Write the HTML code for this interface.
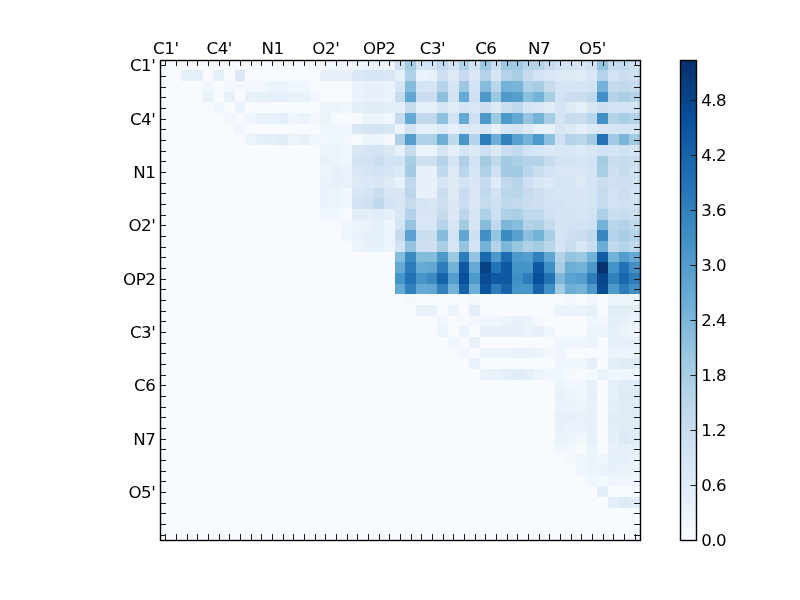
<!DOCTYPE html>
<html><head><meta charset="utf-8"><title>heatmap</title>
<style>html,body{margin:0;padding:0;background:#fff}svg{display:block}text{font-family:"DejaVu Sans","Liberation Sans",sans-serif;font-size:16.67px;fill:#000}</style></head>
<body>
<svg width="800" height="600" viewBox="0 0 800 600">
<rect width="800" height="600" fill="#fff"/>
<defs><linearGradient id="cb" x1="0" y1="1" x2="0" y2="0"><stop offset="0.0000" stop-color="#f7fbff"/><stop offset="0.1250" stop-color="#deebf7"/><stop offset="0.2500" stop-color="#c6dbef"/><stop offset="0.3750" stop-color="#9ecae1"/><stop offset="0.5000" stop-color="#6baed6"/><stop offset="0.6250" stop-color="#4292c6"/><stop offset="0.7500" stop-color="#2171b5"/><stop offset="0.8750" stop-color="#08519c"/><stop offset="1.0000" stop-color="#08306b"/></linearGradient></defs>
<g shape-rendering="crispEdges">
<rect x="160" y="60" width="480" height="480" fill="#f7fbff"/>
<rect x="320" y="60" width="11" height="10" fill="#f4f9fe"/><rect x="331" y="60" width="21" height="10" fill="#f2f7fd"/><rect x="352" y="60" width="11" height="10" fill="#eef5fc"/><rect x="363" y="60" width="21" height="10" fill="#ecf4fb"/><rect x="384" y="60" width="11" height="10" fill="#eef5fc"/><rect x="395" y="60" width="10" height="10" fill="#cee0f2"/><rect x="405" y="60" width="11" height="10" fill="#a3cce3"/><rect x="416" y="60" width="21" height="10" fill="#d2e3f3"/><rect x="437" y="60" width="11" height="10" fill="#c1d9ed"/><rect x="448" y="60" width="11" height="10" fill="#d2e3f3"/><rect x="459" y="60" width="10" height="10" fill="#aed1e7"/><rect x="469" y="60" width="11" height="10" fill="#d2e3f3"/><rect x="480" y="60" width="11" height="10" fill="#9cc9e1"/><rect x="491" y="60" width="10" height="10" fill="#cadef0"/><rect x="501" y="60" width="11" height="10" fill="#9cc9e1"/><rect x="512" y="60" width="11" height="10" fill="#9fcae1"/><rect x="523" y="60" width="21" height="10" fill="#b4d3e9"/><rect x="544" y="60" width="11" height="10" fill="#c7dbef"/><rect x="555" y="60" width="21" height="10" fill="#d2e3f3"/><rect x="576" y="60" width="11" height="10" fill="#d5e5f4"/><rect x="587" y="60" width="10" height="10" fill="#cee0f2"/><rect x="597" y="60" width="11" height="10" fill="#94c4df"/><rect x="608" y="60" width="11" height="10" fill="#c7dbef"/><rect x="619" y="60" width="10" height="10" fill="#c1d9ed"/><rect x="629" y="60" width="11" height="10" fill="#cee0f2"/>
<rect x="181" y="70" width="11" height="11" fill="#e6f0f9"/><rect x="192" y="70" width="11" height="11" fill="#e4eff9"/><rect x="213" y="70" width="11" height="11" fill="#e6f0f9"/><rect x="235" y="70" width="10" height="11" fill="#dbe9f6"/><rect x="320" y="70" width="11" height="11" fill="#e8f1fa"/><rect x="331" y="70" width="10" height="11" fill="#e6f0f9"/><rect x="341" y="70" width="11" height="11" fill="#e8f1fa"/><rect x="352" y="70" width="11" height="11" fill="#dbe9f6"/><rect x="363" y="70" width="10" height="11" fill="#d7e6f5"/><rect x="373" y="70" width="11" height="11" fill="#d5e5f4"/><rect x="384" y="70" width="11" height="11" fill="#d9e7f5"/><rect x="395" y="70" width="10" height="11" fill="#e4eff9"/><rect x="405" y="70" width="11" height="11" fill="#aed1e7"/><rect x="416" y="70" width="11" height="11" fill="#eaf2fb"/><rect x="427" y="70" width="10" height="11" fill="#e8f1fa"/><rect x="437" y="70" width="11" height="11" fill="#cee0f2"/><rect x="448" y="70" width="11" height="11" fill="#dceaf6"/><rect x="459" y="70" width="10" height="11" fill="#c7dbef"/><rect x="469" y="70" width="11" height="11" fill="#d9e7f5"/><rect x="480" y="70" width="11" height="11" fill="#b4d3e9"/><rect x="491" y="70" width="10" height="11" fill="#d5e5f4"/><rect x="501" y="70" width="11" height="11" fill="#b4d3e9"/><rect x="512" y="70" width="11" height="11" fill="#a8cee4"/><rect x="523" y="70" width="10" height="11" fill="#c7dbef"/><rect x="533" y="70" width="11" height="11" fill="#d2e3f3"/><rect x="544" y="70" width="11" height="11" fill="#d9e7f5"/><rect x="555" y="70" width="21" height="11" fill="#dceaf6"/><rect x="576" y="70" width="11" height="11" fill="#dfebf7"/><rect x="587" y="70" width="10" height="11" fill="#d9e7f5"/><rect x="597" y="70" width="11" height="11" fill="#b4d3e9"/><rect x="608" y="70" width="11" height="11" fill="#d2e3f3"/><rect x="619" y="70" width="10" height="11" fill="#cadef0"/><rect x="629" y="70" width="11" height="11" fill="#cee0f2"/>
<rect x="203" y="81" width="10" height="11" fill="#f0f6fd"/><rect x="224" y="81" width="43" height="11" fill="#f2f7fd"/><rect x="267" y="81" width="21" height="11" fill="#ecf4fb"/><rect x="288" y="81" width="21" height="11" fill="#f0f6fd"/><rect x="309" y="81" width="11" height="11" fill="#f4f9fe"/><rect x="320" y="81" width="32" height="11" fill="#f5fafe"/><rect x="352" y="81" width="11" height="11" fill="#eaf2fb"/><rect x="363" y="81" width="21" height="11" fill="#e8f1fa"/><rect x="384" y="81" width="11" height="11" fill="#eaf2fb"/><rect x="395" y="81" width="10" height="11" fill="#d5e5f4"/><rect x="405" y="81" width="11" height="11" fill="#84bcdb"/><rect x="416" y="81" width="21" height="11" fill="#d5e5f4"/><rect x="437" y="81" width="11" height="11" fill="#b4d3e9"/><rect x="448" y="81" width="11" height="11" fill="#d5e5f4"/><rect x="459" y="81" width="10" height="11" fill="#9cc9e1"/><rect x="469" y="81" width="11" height="11" fill="#d2e3f3"/><rect x="480" y="81" width="11" height="11" fill="#84bcdb"/><rect x="491" y="81" width="10" height="11" fill="#bad6eb"/><rect x="501" y="81" width="11" height="11" fill="#74b3d8"/><rect x="512" y="81" width="11" height="11" fill="#79b5d9"/><rect x="523" y="81" width="10" height="11" fill="#aed1e7"/><rect x="533" y="81" width="11" height="11" fill="#a8cee4"/><rect x="544" y="81" width="11" height="11" fill="#c7dbef"/><rect x="555" y="81" width="32" height="11" fill="#d5e5f4"/><rect x="587" y="81" width="10" height="11" fill="#d2e3f3"/><rect x="597" y="81" width="11" height="11" fill="#74b3d8"/><rect x="608" y="81" width="11" height="11" fill="#c7dbef"/><rect x="619" y="81" width="10" height="11" fill="#c1d9ed"/><rect x="629" y="81" width="11" height="11" fill="#c7dbef"/>
<rect x="203" y="92" width="10" height="10" fill="#e8f1fa"/><rect x="224" y="92" width="11" height="10" fill="#e8f1fa"/><rect x="245" y="92" width="11" height="10" fill="#e8f1fa"/><rect x="256" y="92" width="11" height="10" fill="#e6f0f9"/><rect x="267" y="92" width="21" height="10" fill="#e4eff9"/><rect x="288" y="92" width="21" height="10" fill="#e8f1fa"/><rect x="309" y="92" width="11" height="10" fill="#f0f6fd"/><rect x="320" y="92" width="32" height="10" fill="#f5fafe"/><rect x="352" y="92" width="11" height="10" fill="#eaf2fb"/><rect x="363" y="92" width="21" height="10" fill="#e8f1fa"/><rect x="384" y="92" width="11" height="10" fill="#eaf2fb"/><rect x="395" y="92" width="10" height="10" fill="#c7dbef"/><rect x="405" y="92" width="11" height="10" fill="#60a7d2"/><rect x="416" y="92" width="21" height="10" fill="#cadef0"/><rect x="437" y="92" width="11" height="10" fill="#8cc0dd"/><rect x="448" y="92" width="11" height="10" fill="#d2e3f3"/><rect x="459" y="92" width="10" height="10" fill="#65aad4"/><rect x="469" y="92" width="11" height="10" fill="#cee0f2"/><rect x="480" y="92" width="11" height="10" fill="#4d99ca"/><rect x="491" y="92" width="10" height="10" fill="#9cc9e1"/><rect x="501" y="92" width="11" height="10" fill="#4d99ca"/><rect x="512" y="92" width="11" height="10" fill="#56a0ce"/><rect x="523" y="92" width="10" height="10" fill="#8cc0dd"/><rect x="533" y="92" width="11" height="10" fill="#74b3d8"/><rect x="544" y="92" width="11" height="10" fill="#a8cee4"/><rect x="555" y="92" width="10" height="10" fill="#d2e3f3"/><rect x="565" y="92" width="22" height="10" fill="#cadef0"/><rect x="587" y="92" width="10" height="10" fill="#c1d9ed"/><rect x="597" y="92" width="11" height="10" fill="#4090c5"/><rect x="608" y="92" width="11" height="10" fill="#b4d3e9"/><rect x="619" y="92" width="10" height="10" fill="#a8cee4"/><rect x="629" y="92" width="11" height="10" fill="#b4d3e9"/>
<rect x="213" y="102" width="11" height="11" fill="#f0f6fd"/><rect x="235" y="102" width="10" height="11" fill="#eaf2fb"/><rect x="320" y="102" width="21" height="11" fill="#ecf4fb"/><rect x="341" y="102" width="11" height="11" fill="#eef5fc"/><rect x="352" y="102" width="11" height="11" fill="#e3eef8"/><rect x="363" y="102" width="10" height="11" fill="#e0ecf8"/><rect x="373" y="102" width="11" height="11" fill="#dfebf7"/><rect x="384" y="102" width="11" height="11" fill="#e3eef8"/><rect x="395" y="102" width="10" height="11" fill="#e4eff9"/><rect x="405" y="102" width="11" height="11" fill="#c7dbef"/><rect x="416" y="102" width="21" height="11" fill="#e4eff9"/><rect x="437" y="102" width="11" height="11" fill="#d5e5f4"/><rect x="448" y="102" width="11" height="11" fill="#dfebf7"/><rect x="459" y="102" width="10" height="11" fill="#d5e5f4"/><rect x="469" y="102" width="11" height="11" fill="#d9e7f5"/><rect x="480" y="102" width="11" height="11" fill="#cee0f2"/><rect x="491" y="102" width="10" height="11" fill="#dceaf6"/><rect x="501" y="102" width="11" height="11" fill="#cadef0"/><rect x="512" y="102" width="11" height="11" fill="#c1d9ed"/><rect x="523" y="102" width="10" height="11" fill="#d5e5f4"/><rect x="533" y="102" width="11" height="11" fill="#d9e7f5"/><rect x="544" y="102" width="11" height="11" fill="#dfebf7"/><rect x="555" y="102" width="10" height="11" fill="#d5e5f4"/><rect x="565" y="102" width="11" height="11" fill="#dceaf6"/><rect x="576" y="102" width="11" height="11" fill="#e6f0f9"/><rect x="587" y="102" width="10" height="11" fill="#d9e7f5"/><rect x="597" y="102" width="11" height="11" fill="#cee0f2"/><rect x="608" y="102" width="32" height="11" fill="#d2e3f3"/>
<rect x="224" y="113" width="11" height="11" fill="#f2f7fd"/><rect x="245" y="113" width="11" height="11" fill="#eef5fc"/><rect x="256" y="113" width="11" height="11" fill="#e8f1fa"/><rect x="267" y="113" width="10" height="11" fill="#e6f0f9"/><rect x="277" y="113" width="11" height="11" fill="#e4eff9"/><rect x="288" y="113" width="11" height="11" fill="#eef5fc"/><rect x="299" y="113" width="10" height="11" fill="#eaf2fb"/><rect x="309" y="113" width="11" height="11" fill="#f2f7fd"/><rect x="320" y="113" width="11" height="11" fill="#ecf4fb"/><rect x="331" y="113" width="32" height="11" fill="#f5fafe"/><rect x="363" y="113" width="21" height="11" fill="#ecf4fb"/><rect x="384" y="113" width="11" height="11" fill="#f0f6fd"/><rect x="395" y="113" width="10" height="11" fill="#c7dbef"/><rect x="405" y="113" width="11" height="11" fill="#65aad4"/><rect x="416" y="113" width="21" height="11" fill="#c1d9ed"/><rect x="437" y="113" width="11" height="11" fill="#8cc0dd"/><rect x="448" y="113" width="11" height="11" fill="#d2e3f3"/><rect x="459" y="113" width="10" height="11" fill="#65aad4"/><rect x="469" y="113" width="11" height="11" fill="#cee0f2"/><rect x="480" y="113" width="11" height="11" fill="#4d99ca"/><rect x="491" y="113" width="10" height="11" fill="#9cc9e1"/><rect x="501" y="113" width="11" height="11" fill="#4d99ca"/><rect x="512" y="113" width="11" height="11" fill="#63a8d3"/><rect x="523" y="113" width="10" height="11" fill="#94c4df"/><rect x="533" y="113" width="11" height="11" fill="#74b3d8"/><rect x="544" y="113" width="11" height="11" fill="#a8cee4"/><rect x="555" y="113" width="10" height="11" fill="#d3e4f3"/><rect x="565" y="113" width="11" height="11" fill="#c7dbef"/><rect x="576" y="113" width="11" height="11" fill="#cadef0"/><rect x="587" y="113" width="10" height="11" fill="#bad6eb"/><rect x="597" y="113" width="11" height="11" fill="#4090c5"/><rect x="608" y="113" width="11" height="11" fill="#b4d3e9"/><rect x="619" y="113" width="10" height="11" fill="#a8cee4"/><rect x="629" y="113" width="11" height="11" fill="#b4d3e9"/>
<rect x="235" y="124" width="10" height="10" fill="#eef5fc"/><rect x="320" y="124" width="21" height="10" fill="#eef5fc"/><rect x="341" y="124" width="11" height="10" fill="#f0f6fd"/><rect x="352" y="124" width="11" height="10" fill="#d9e7f5"/><rect x="363" y="124" width="10" height="10" fill="#d5e5f4"/><rect x="373" y="124" width="11" height="10" fill="#d2e3f3"/><rect x="384" y="124" width="11" height="10" fill="#d7e6f5"/><rect x="395" y="124" width="10" height="10" fill="#ecf4fb"/><rect x="405" y="124" width="11" height="10" fill="#d2e3f3"/><rect x="416" y="124" width="21" height="10" fill="#e6f0f9"/><rect x="437" y="124" width="11" height="10" fill="#dceaf6"/><rect x="448" y="124" width="11" height="10" fill="#e4eff9"/><rect x="459" y="124" width="21" height="10" fill="#dceaf6"/><rect x="480" y="124" width="11" height="10" fill="#d9e7f5"/><rect x="491" y="124" width="10" height="10" fill="#e6f0f9"/><rect x="501" y="124" width="11" height="10" fill="#d5e5f4"/><rect x="512" y="124" width="11" height="10" fill="#d2e3f3"/><rect x="523" y="124" width="10" height="10" fill="#dceaf6"/><rect x="533" y="124" width="11" height="10" fill="#e6f0f9"/><rect x="544" y="124" width="11" height="10" fill="#e8f1fa"/><rect x="555" y="124" width="10" height="10" fill="#d9e7f5"/><rect x="565" y="124" width="11" height="10" fill="#dceaf6"/><rect x="576" y="124" width="11" height="10" fill="#e4eff9"/><rect x="587" y="124" width="10" height="10" fill="#dceaf6"/><rect x="597" y="124" width="11" height="10" fill="#d9e7f5"/><rect x="608" y="124" width="11" height="10" fill="#d7e6f5"/><rect x="619" y="124" width="21" height="10" fill="#d5e5f4"/>
<rect x="245" y="134" width="11" height="11" fill="#ecf4fb"/><rect x="256" y="134" width="11" height="11" fill="#e4eff9"/><rect x="267" y="134" width="10" height="11" fill="#e3eef8"/><rect x="277" y="134" width="11" height="11" fill="#e0ecf8"/><rect x="288" y="134" width="11" height="11" fill="#ecf4fb"/><rect x="299" y="134" width="10" height="11" fill="#e6f0f9"/><rect x="309" y="134" width="11" height="11" fill="#f0f6fd"/><rect x="320" y="134" width="11" height="11" fill="#f2f7fd"/><rect x="331" y="134" width="10" height="11" fill="#f0f6fd"/><rect x="341" y="134" width="11" height="11" fill="#f2f7fd"/><rect x="352" y="134" width="11" height="11" fill="#f5fafe"/><rect x="363" y="134" width="21" height="11" fill="#ecf4fb"/><rect x="384" y="134" width="11" height="11" fill="#f4f9fe"/><rect x="395" y="134" width="10" height="11" fill="#aed1e7"/><rect x="405" y="134" width="11" height="11" fill="#539ecd"/><rect x="416" y="134" width="21" height="11" fill="#aed1e7"/><rect x="437" y="134" width="11" height="11" fill="#6caed6"/><rect x="448" y="134" width="11" height="11" fill="#c1d9ed"/><rect x="459" y="134" width="10" height="11" fill="#4695c8"/><rect x="469" y="134" width="11" height="11" fill="#b4d3e9"/><rect x="480" y="134" width="11" height="11" fill="#2d7dbb"/><rect x="491" y="134" width="10" height="11" fill="#6caed6"/><rect x="501" y="134" width="11" height="11" fill="#3181bd"/><rect x="512" y="134" width="11" height="11" fill="#56a0ce"/><rect x="523" y="134" width="10" height="11" fill="#74b3d8"/><rect x="533" y="134" width="11" height="11" fill="#4d99ca"/><rect x="544" y="134" width="11" height="11" fill="#8cc0dd"/><rect x="555" y="134" width="10" height="11" fill="#cee0f2"/><rect x="565" y="134" width="11" height="11" fill="#b4d3e9"/><rect x="576" y="134" width="11" height="11" fill="#bad6eb"/><rect x="587" y="134" width="10" height="11" fill="#a3cce3"/><rect x="597" y="134" width="11" height="11" fill="#2272b6"/><rect x="608" y="134" width="11" height="11" fill="#a3cce3"/><rect x="619" y="134" width="10" height="11" fill="#7cb7da"/><rect x="629" y="134" width="11" height="11" fill="#a3cce3"/>
<rect x="320" y="145" width="21" height="11" fill="#ecf4fb"/><rect x="341" y="145" width="11" height="11" fill="#f0f6fd"/><rect x="352" y="145" width="11" height="11" fill="#d9e7f5"/><rect x="363" y="145" width="10" height="11" fill="#d5e5f4"/><rect x="373" y="145" width="11" height="11" fill="#d2e3f3"/><rect x="384" y="145" width="11" height="11" fill="#d9e7f5"/><rect x="395" y="145" width="10" height="11" fill="#e6f0f9"/><rect x="405" y="145" width="11" height="11" fill="#c7dbef"/><rect x="416" y="145" width="21" height="11" fill="#eaf2fb"/><rect x="437" y="145" width="11" height="11" fill="#d5e5f4"/><rect x="448" y="145" width="11" height="11" fill="#e4eff9"/><rect x="459" y="145" width="10" height="11" fill="#d5e5f4"/><rect x="469" y="145" width="11" height="11" fill="#dceaf6"/><rect x="480" y="145" width="11" height="11" fill="#cee0f2"/><rect x="491" y="145" width="10" height="11" fill="#dceaf6"/><rect x="501" y="145" width="11" height="11" fill="#cadef0"/><rect x="512" y="145" width="11" height="11" fill="#c3daee"/><rect x="523" y="145" width="10" height="11" fill="#d2e3f3"/><rect x="533" y="145" width="11" height="11" fill="#d7e6f5"/><rect x="544" y="145" width="11" height="11" fill="#dbe9f6"/><rect x="555" y="145" width="21" height="11" fill="#d9e7f5"/><rect x="576" y="145" width="11" height="11" fill="#dceaf6"/><rect x="587" y="145" width="10" height="11" fill="#d9e7f5"/><rect x="597" y="145" width="11" height="11" fill="#d2e3f3"/><rect x="608" y="145" width="11" height="11" fill="#d3e4f3"/><rect x="619" y="145" width="10" height="11" fill="#d0e1f2"/><rect x="629" y="145" width="11" height="11" fill="#d3e4f3"/>
<rect x="288" y="156" width="11" height="10" fill="#f5fafe"/><rect x="320" y="156" width="11" height="10" fill="#e8f1fa"/><rect x="331" y="156" width="10" height="10" fill="#ecf4fb"/><rect x="341" y="156" width="11" height="10" fill="#eef5fc"/><rect x="352" y="156" width="21" height="10" fill="#d2e3f3"/><rect x="373" y="156" width="11" height="10" fill="#cadef0"/><rect x="384" y="156" width="21" height="10" fill="#d2e3f3"/><rect x="405" y="156" width="11" height="10" fill="#a8cee4"/><rect x="416" y="156" width="21" height="10" fill="#cee0f2"/><rect x="437" y="156" width="11" height="10" fill="#b4d3e9"/><rect x="448" y="156" width="11" height="10" fill="#d5e5f4"/><rect x="459" y="156" width="10" height="10" fill="#aed1e7"/><rect x="469" y="156" width="11" height="10" fill="#d2e3f3"/><rect x="480" y="156" width="11" height="10" fill="#a3cce3"/><rect x="491" y="156" width="10" height="10" fill="#c1d9ed"/><rect x="501" y="156" width="11" height="10" fill="#a3cce3"/><rect x="512" y="156" width="11" height="10" fill="#abd0e6"/><rect x="523" y="156" width="21" height="10" fill="#b4d3e9"/><rect x="544" y="156" width="11" height="10" fill="#c7dbef"/><rect x="555" y="156" width="21" height="10" fill="#d2e3f3"/><rect x="576" y="156" width="11" height="10" fill="#d5e5f4"/><rect x="587" y="156" width="10" height="10" fill="#d2e3f3"/><rect x="597" y="156" width="11" height="10" fill="#a3cce3"/><rect x="608" y="156" width="11" height="10" fill="#cadef0"/><rect x="619" y="156" width="10" height="10" fill="#c7dbef"/><rect x="629" y="156" width="11" height="10" fill="#cadef0"/>
<rect x="320" y="166" width="11" height="11" fill="#ecf4fb"/><rect x="331" y="166" width="10" height="11" fill="#e6f0f9"/><rect x="341" y="166" width="11" height="11" fill="#eaf2fb"/><rect x="352" y="166" width="11" height="11" fill="#d9e7f5"/><rect x="363" y="166" width="10" height="11" fill="#d5e5f4"/><rect x="373" y="166" width="11" height="11" fill="#d2e3f3"/><rect x="384" y="166" width="11" height="11" fill="#d5e5f4"/><rect x="395" y="166" width="10" height="11" fill="#dceaf6"/><rect x="405" y="166" width="11" height="11" fill="#a3cce3"/><rect x="416" y="166" width="21" height="11" fill="#e8f1fa"/><rect x="437" y="166" width="11" height="11" fill="#c1d9ed"/><rect x="448" y="166" width="11" height="11" fill="#dceaf6"/><rect x="459" y="166" width="10" height="11" fill="#bad6eb"/><rect x="469" y="166" width="11" height="11" fill="#d5e5f4"/><rect x="480" y="166" width="11" height="11" fill="#aed1e7"/><rect x="491" y="166" width="10" height="11" fill="#cee0f2"/><rect x="501" y="166" width="11" height="11" fill="#a3cce3"/><rect x="512" y="166" width="11" height="11" fill="#9fcae1"/><rect x="523" y="166" width="10" height="11" fill="#bad6eb"/><rect x="533" y="166" width="11" height="11" fill="#cadef0"/><rect x="544" y="166" width="11" height="11" fill="#d2e3f3"/><rect x="555" y="166" width="32" height="11" fill="#d9e7f5"/><rect x="587" y="166" width="10" height="11" fill="#d5e5f4"/><rect x="597" y="166" width="11" height="11" fill="#a8cee4"/><rect x="608" y="166" width="11" height="11" fill="#cee0f2"/><rect x="619" y="166" width="10" height="11" fill="#c7dbef"/><rect x="629" y="166" width="11" height="11" fill="#cee0f2"/>
<rect x="320" y="177" width="11" height="11" fill="#eaf2fb"/><rect x="331" y="177" width="10" height="11" fill="#e6f0f9"/><rect x="341" y="177" width="11" height="11" fill="#e8f1fa"/><rect x="352" y="177" width="11" height="11" fill="#dceaf6"/><rect x="363" y="177" width="10" height="11" fill="#dbe9f6"/><rect x="373" y="177" width="11" height="11" fill="#d9e7f5"/><rect x="384" y="177" width="11" height="11" fill="#dceaf6"/><rect x="395" y="177" width="10" height="11" fill="#e8f1fa"/><rect x="405" y="177" width="11" height="11" fill="#c1d9ed"/><rect x="416" y="177" width="21" height="11" fill="#e8f1fa"/><rect x="437" y="177" width="11" height="11" fill="#d5e5f4"/><rect x="448" y="177" width="11" height="11" fill="#dceaf6"/><rect x="459" y="177" width="10" height="11" fill="#d2e3f3"/><rect x="469" y="177" width="11" height="11" fill="#d9e7f5"/><rect x="480" y="177" width="11" height="11" fill="#c7dbef"/><rect x="491" y="177" width="10" height="11" fill="#dfebf7"/><rect x="501" y="177" width="11" height="11" fill="#c1d9ed"/><rect x="512" y="177" width="11" height="11" fill="#b8d5ea"/><rect x="523" y="177" width="10" height="11" fill="#cee0f2"/><rect x="533" y="177" width="11" height="11" fill="#d9e7f5"/><rect x="544" y="177" width="11" height="11" fill="#dceaf6"/><rect x="555" y="177" width="21" height="11" fill="#d5e5f4"/><rect x="576" y="177" width="11" height="11" fill="#dceaf6"/><rect x="587" y="177" width="10" height="11" fill="#d5e5f4"/><rect x="597" y="177" width="11" height="11" fill="#cadef0"/><rect x="608" y="177" width="11" height="11" fill="#d0e1f2"/><rect x="619" y="177" width="10" height="11" fill="#cee0f2"/><rect x="629" y="177" width="11" height="11" fill="#d0e1f2"/>
<rect x="299" y="188" width="10" height="10" fill="#f5fafe"/><rect x="320" y="188" width="11" height="10" fill="#eaf2fb"/><rect x="331" y="188" width="10" height="10" fill="#ecf4fb"/><rect x="341" y="188" width="11" height="10" fill="#f2f7fd"/><rect x="352" y="188" width="11" height="10" fill="#d9e7f5"/><rect x="363" y="188" width="10" height="10" fill="#d3e4f3"/><rect x="373" y="188" width="11" height="10" fill="#cadef0"/><rect x="384" y="188" width="21" height="10" fill="#d9e7f5"/><rect x="405" y="188" width="11" height="10" fill="#bad6eb"/><rect x="416" y="188" width="21" height="10" fill="#e8f1fa"/><rect x="437" y="188" width="11" height="10" fill="#cadef0"/><rect x="448" y="188" width="11" height="10" fill="#dceaf6"/><rect x="459" y="188" width="10" height="10" fill="#c7dbef"/><rect x="469" y="188" width="11" height="10" fill="#d9e7f5"/><rect x="480" y="188" width="11" height="10" fill="#c1d9ed"/><rect x="491" y="188" width="10" height="10" fill="#d2e3f3"/><rect x="501" y="188" width="11" height="10" fill="#bad6eb"/><rect x="512" y="188" width="11" height="10" fill="#b8d5ea"/><rect x="523" y="188" width="10" height="10" fill="#c7dbef"/><rect x="533" y="188" width="11" height="10" fill="#cee0f2"/><rect x="544" y="188" width="11" height="10" fill="#d3e4f3"/><rect x="555" y="188" width="21" height="10" fill="#d7e6f5"/><rect x="576" y="188" width="11" height="10" fill="#d9e7f5"/><rect x="587" y="188" width="10" height="10" fill="#d3e4f3"/><rect x="597" y="188" width="11" height="10" fill="#c7dbef"/><rect x="608" y="188" width="11" height="10" fill="#d2e3f3"/><rect x="619" y="188" width="10" height="10" fill="#cadef0"/><rect x="629" y="188" width="11" height="10" fill="#d2e3f3"/>
<rect x="320" y="198" width="11" height="11" fill="#eaf2fb"/><rect x="331" y="198" width="10" height="11" fill="#ecf4fb"/><rect x="341" y="198" width="11" height="11" fill="#f0f6fd"/><rect x="352" y="198" width="11" height="11" fill="#d2e3f3"/><rect x="363" y="198" width="10" height="11" fill="#d0e1f2"/><rect x="373" y="198" width="11" height="11" fill="#c1d9ed"/><rect x="384" y="198" width="11" height="11" fill="#d2e3f3"/><rect x="395" y="198" width="10" height="11" fill="#d9e7f5"/><rect x="405" y="198" width="11" height="11" fill="#c7dbef"/><rect x="416" y="198" width="11" height="11" fill="#d5e5f4"/><rect x="427" y="198" width="10" height="11" fill="#d9e7f5"/><rect x="437" y="198" width="11" height="11" fill="#cee0f2"/><rect x="448" y="198" width="11" height="11" fill="#dbe9f6"/><rect x="459" y="198" width="10" height="11" fill="#cadef0"/><rect x="469" y="198" width="11" height="11" fill="#d9e7f5"/><rect x="480" y="198" width="11" height="11" fill="#c7dbef"/><rect x="491" y="198" width="10" height="11" fill="#cee0f2"/><rect x="501" y="198" width="11" height="11" fill="#c1d9ed"/><rect x="512" y="198" width="11" height="11" fill="#c3daee"/><rect x="523" y="198" width="10" height="11" fill="#cadef0"/><rect x="533" y="198" width="11" height="11" fill="#cee0f2"/><rect x="544" y="198" width="21" height="11" fill="#d2e3f3"/><rect x="565" y="198" width="11" height="11" fill="#d5e5f4"/><rect x="576" y="198" width="11" height="11" fill="#d7e6f5"/><rect x="587" y="198" width="10" height="11" fill="#d3e4f3"/><rect x="597" y="198" width="11" height="11" fill="#c7dbef"/><rect x="608" y="198" width="11" height="11" fill="#d2e3f3"/><rect x="619" y="198" width="10" height="11" fill="#cee0f2"/><rect x="629" y="198" width="11" height="11" fill="#d0e1f2"/>
<rect x="320" y="209" width="21" height="11" fill="#f0f6fd"/><rect x="341" y="209" width="11" height="11" fill="#f5fafe"/><rect x="352" y="209" width="21" height="11" fill="#e3eef8"/><rect x="373" y="209" width="11" height="11" fill="#dfebf7"/><rect x="384" y="209" width="11" height="11" fill="#e4eff9"/><rect x="395" y="209" width="10" height="11" fill="#d9e7f5"/><rect x="405" y="209" width="11" height="11" fill="#b4d3e9"/><rect x="416" y="209" width="21" height="11" fill="#d9e7f5"/><rect x="437" y="209" width="11" height="11" fill="#c7dbef"/><rect x="448" y="209" width="11" height="11" fill="#dbe9f6"/><rect x="459" y="209" width="10" height="11" fill="#bad6eb"/><rect x="469" y="209" width="11" height="11" fill="#d7e6f5"/><rect x="480" y="209" width="11" height="11" fill="#aed1e7"/><rect x="491" y="209" width="10" height="11" fill="#cee0f2"/><rect x="501" y="209" width="11" height="11" fill="#aed1e7"/><rect x="512" y="209" width="11" height="11" fill="#abd0e6"/><rect x="523" y="209" width="21" height="11" fill="#c1d9ed"/><rect x="544" y="209" width="11" height="11" fill="#cee0f2"/><rect x="555" y="209" width="21" height="11" fill="#d3e4f3"/><rect x="576" y="209" width="11" height="11" fill="#d5e5f4"/><rect x="587" y="209" width="10" height="11" fill="#d2e3f3"/><rect x="597" y="209" width="11" height="11" fill="#aed1e7"/><rect x="608" y="209" width="11" height="11" fill="#cadef0"/><rect x="619" y="209" width="10" height="11" fill="#c7dbef"/><rect x="629" y="209" width="11" height="11" fill="#cadef0"/>
<rect x="331" y="220" width="10" height="10" fill="#f4f9fe"/><rect x="341" y="220" width="11" height="10" fill="#eef5fc"/><rect x="352" y="220" width="11" height="10" fill="#ecf4fb"/><rect x="363" y="220" width="10" height="10" fill="#eaf2fb"/><rect x="373" y="220" width="11" height="10" fill="#e4eff9"/><rect x="384" y="220" width="11" height="10" fill="#eef5fc"/><rect x="395" y="220" width="10" height="10" fill="#d5e5f4"/><rect x="405" y="220" width="11" height="10" fill="#94c4df"/><rect x="416" y="220" width="21" height="10" fill="#d9e7f5"/><rect x="437" y="220" width="11" height="10" fill="#b4d3e9"/><rect x="448" y="220" width="11" height="10" fill="#d9e7f5"/><rect x="459" y="220" width="10" height="10" fill="#a3cce3"/><rect x="469" y="220" width="11" height="10" fill="#d5e5f4"/><rect x="480" y="220" width="11" height="10" fill="#84bcdb"/><rect x="491" y="220" width="10" height="10" fill="#c1d9ed"/><rect x="501" y="220" width="11" height="10" fill="#7cb7da"/><rect x="512" y="220" width="11" height="10" fill="#87bddc"/><rect x="523" y="220" width="10" height="10" fill="#b4d3e9"/><rect x="533" y="220" width="11" height="10" fill="#aed1e7"/><rect x="544" y="220" width="11" height="10" fill="#c7dbef"/><rect x="555" y="220" width="10" height="10" fill="#d3e4f3"/><rect x="565" y="220" width="22" height="10" fill="#d2e3f3"/><rect x="587" y="220" width="10" height="10" fill="#cee0f2"/><rect x="597" y="220" width="11" height="10" fill="#74b3d8"/><rect x="608" y="220" width="11" height="10" fill="#bad6eb"/><rect x="619" y="220" width="10" height="10" fill="#b4d3e9"/><rect x="629" y="220" width="11" height="10" fill="#c1d9ed"/>
<rect x="341" y="230" width="11" height="11" fill="#eef5fc"/><rect x="352" y="230" width="11" height="11" fill="#eaf2fb"/><rect x="363" y="230" width="10" height="11" fill="#e6f0f9"/><rect x="373" y="230" width="11" height="11" fill="#e4eff9"/><rect x="384" y="230" width="11" height="11" fill="#ecf4fb"/><rect x="395" y="230" width="10" height="11" fill="#c7dbef"/><rect x="405" y="230" width="11" height="11" fill="#5aa2cf"/><rect x="416" y="230" width="21" height="11" fill="#cadef0"/><rect x="437" y="230" width="11" height="11" fill="#84bcdb"/><rect x="448" y="230" width="11" height="11" fill="#d2e3f3"/><rect x="459" y="230" width="10" height="11" fill="#60a7d2"/><rect x="469" y="230" width="11" height="11" fill="#cee0f2"/><rect x="480" y="230" width="11" height="11" fill="#4090c5"/><rect x="491" y="230" width="10" height="11" fill="#94c4df"/><rect x="501" y="230" width="11" height="11" fill="#3b8bc2"/><rect x="512" y="230" width="11" height="11" fill="#56a0ce"/><rect x="523" y="230" width="10" height="11" fill="#8cc0dd"/><rect x="533" y="230" width="11" height="11" fill="#74b3d8"/><rect x="544" y="230" width="11" height="11" fill="#a8cee4"/><rect x="555" y="230" width="10" height="11" fill="#d3e4f3"/><rect x="565" y="230" width="11" height="11" fill="#cee0f2"/><rect x="576" y="230" width="11" height="11" fill="#cadef0"/><rect x="587" y="230" width="10" height="11" fill="#c1d9ed"/><rect x="597" y="230" width="11" height="11" fill="#3686c0"/><rect x="608" y="230" width="11" height="11" fill="#b4d3e9"/><rect x="619" y="230" width="10" height="11" fill="#a8cee4"/><rect x="629" y="230" width="11" height="11" fill="#b4d3e9"/>
<rect x="352" y="241" width="11" height="11" fill="#ecf4fb"/><rect x="363" y="241" width="10" height="11" fill="#e8f1fa"/><rect x="373" y="241" width="11" height="11" fill="#e6f0f9"/><rect x="384" y="241" width="11" height="11" fill="#ecf4fb"/><rect x="395" y="241" width="10" height="11" fill="#d2e3f3"/><rect x="405" y="241" width="11" height="11" fill="#94c4df"/><rect x="416" y="241" width="21" height="11" fill="#cee0f2"/><rect x="437" y="241" width="11" height="11" fill="#a8cee4"/><rect x="448" y="241" width="11" height="11" fill="#d5e5f4"/><rect x="459" y="241" width="10" height="11" fill="#94c4df"/><rect x="469" y="241" width="11" height="11" fill="#d2e3f3"/><rect x="480" y="241" width="11" height="11" fill="#74b3d8"/><rect x="491" y="241" width="10" height="11" fill="#b4d3e9"/><rect x="501" y="241" width="11" height="11" fill="#7cb7da"/><rect x="512" y="241" width="11" height="11" fill="#97c6df"/><rect x="523" y="241" width="10" height="11" fill="#aed1e7"/><rect x="533" y="241" width="11" height="11" fill="#a3cce3"/><rect x="544" y="241" width="11" height="11" fill="#bad6eb"/><rect x="555" y="241" width="10" height="11" fill="#d5e5f4"/><rect x="565" y="241" width="11" height="11" fill="#cadef0"/><rect x="576" y="241" width="11" height="11" fill="#d9e7f5"/><rect x="587" y="241" width="10" height="11" fill="#cadef0"/><rect x="597" y="241" width="11" height="11" fill="#6caed6"/><rect x="608" y="241" width="11" height="11" fill="#c1d9ed"/><rect x="619" y="241" width="10" height="11" fill="#b4d3e9"/><rect x="629" y="241" width="11" height="11" fill="#c1d9ed"/>
<rect x="395" y="252" width="10" height="10" fill="#84bcdb"/><rect x="405" y="252" width="11" height="10" fill="#3b8bc2"/><rect x="416" y="252" width="21" height="10" fill="#84bcdb"/><rect x="437" y="252" width="11" height="10" fill="#4d99ca"/><rect x="448" y="252" width="11" height="10" fill="#9cc9e1"/><rect x="459" y="252" width="10" height="10" fill="#2d7dbb"/><rect x="469" y="252" width="11" height="10" fill="#94c4df"/><rect x="480" y="252" width="11" height="10" fill="#1a68ae"/><rect x="491" y="252" width="10" height="10" fill="#4d99ca"/><rect x="501" y="252" width="11" height="10" fill="#1e6db2"/><rect x="512" y="252" width="11" height="10" fill="#4d99ca"/><rect x="523" y="252" width="10" height="10" fill="#539ecd"/><rect x="533" y="252" width="11" height="10" fill="#3181bd"/><rect x="544" y="252" width="11" height="10" fill="#60a7d2"/><rect x="555" y="252" width="10" height="10" fill="#b4d3e9"/><rect x="565" y="252" width="11" height="10" fill="#94c4df"/><rect x="576" y="252" width="11" height="10" fill="#9cc9e1"/><rect x="587" y="252" width="10" height="10" fill="#74b3d8"/><rect x="597" y="252" width="11" height="10" fill="#125ea6"/><rect x="608" y="252" width="11" height="10" fill="#74b3d8"/><rect x="619" y="252" width="10" height="10" fill="#539ecd"/><rect x="629" y="252" width="11" height="10" fill="#65aad4"/>
<rect x="395" y="262" width="10" height="11" fill="#65aad4"/><rect x="405" y="262" width="11" height="11" fill="#2d7dbb"/><rect x="416" y="262" width="11" height="11" fill="#65aad4"/><rect x="427" y="262" width="10" height="11" fill="#60a7d2"/><rect x="437" y="262" width="11" height="11" fill="#2d7dbb"/><rect x="448" y="262" width="11" height="11" fill="#74b3d8"/><rect x="459" y="262" width="10" height="11" fill="#0e59a2"/><rect x="469" y="262" width="11" height="11" fill="#65aad4"/><rect x="480" y="262" width="11" height="11" fill="#084184"/><rect x="491" y="262" width="10" height="11" fill="#2272b6"/><rect x="501" y="262" width="11" height="11" fill="#0e59a2"/><rect x="512" y="262" width="21" height="11" fill="#4695c8"/><rect x="533" y="262" width="11" height="11" fill="#0e59a2"/><rect x="544" y="262" width="11" height="11" fill="#4090c5"/><rect x="555" y="262" width="10" height="11" fill="#a8cee4"/><rect x="565" y="262" width="11" height="11" fill="#6caed6"/><rect x="576" y="262" width="11" height="11" fill="#74b3d8"/><rect x="587" y="262" width="10" height="11" fill="#4d99ca"/><rect x="597" y="262" width="11" height="11" fill="#08316d"/><rect x="608" y="262" width="11" height="11" fill="#4695c8"/><rect x="619" y="262" width="10" height="11" fill="#2272b6"/><rect x="629" y="262" width="11" height="11" fill="#4090c5"/>
<rect x="395" y="273" width="10" height="11" fill="#4695c8"/><rect x="405" y="273" width="11" height="11" fill="#2272b6"/><rect x="416" y="273" width="11" height="11" fill="#4695c8"/><rect x="427" y="273" width="10" height="11" fill="#3b8bc2"/><rect x="437" y="273" width="11" height="11" fill="#1663aa"/><rect x="448" y="273" width="11" height="11" fill="#539ecd"/><rect x="459" y="273" width="10" height="11" fill="#08509b"/><rect x="469" y="273" width="11" height="11" fill="#4d99ca"/><rect x="480" y="273" width="11" height="11" fill="#084b93"/><rect x="491" y="273" width="21" height="11" fill="#0e59a2"/><rect x="512" y="273" width="11" height="11" fill="#4090c5"/><rect x="523" y="273" width="10" height="11" fill="#2d7dbb"/><rect x="533" y="273" width="11" height="11" fill="#08509b"/><rect x="544" y="273" width="11" height="11" fill="#2272b6"/><rect x="555" y="273" width="10" height="11" fill="#7cb7da"/><rect x="565" y="273" width="11" height="11" fill="#5aa2cf"/><rect x="576" y="273" width="11" height="11" fill="#539ecd"/><rect x="587" y="273" width="10" height="11" fill="#2d7dbb"/><rect x="597" y="273" width="11" height="11" fill="#08468b"/><rect x="608" y="273" width="11" height="11" fill="#3181bd"/><rect x="619" y="273" width="10" height="11" fill="#1a68ae"/><rect x="629" y="273" width="11" height="11" fill="#2d7dbb"/>
<rect x="395" y="284" width="10" height="10" fill="#65aad4"/><rect x="405" y="284" width="11" height="10" fill="#3181bd"/><rect x="416" y="284" width="11" height="10" fill="#65aad4"/><rect x="427" y="284" width="10" height="10" fill="#60a7d2"/><rect x="437" y="284" width="11" height="10" fill="#3181bd"/><rect x="448" y="284" width="11" height="10" fill="#74b3d8"/><rect x="459" y="284" width="10" height="10" fill="#1663aa"/><rect x="469" y="284" width="11" height="10" fill="#6caed6"/><rect x="480" y="284" width="11" height="10" fill="#0a549e"/><rect x="491" y="284" width="10" height="10" fill="#2d7dbb"/><rect x="501" y="284" width="11" height="10" fill="#1663aa"/><rect x="512" y="284" width="21" height="10" fill="#4695c8"/><rect x="533" y="284" width="11" height="10" fill="#1663aa"/><rect x="544" y="284" width="11" height="10" fill="#4090c5"/><rect x="555" y="284" width="10" height="10" fill="#a3cce3"/><rect x="565" y="284" width="11" height="10" fill="#6caed6"/><rect x="576" y="284" width="11" height="10" fill="#74b3d8"/><rect x="587" y="284" width="10" height="10" fill="#4d99ca"/><rect x="597" y="284" width="11" height="10" fill="#084b93"/><rect x="608" y="284" width="11" height="10" fill="#4d99ca"/><rect x="619" y="284" width="10" height="10" fill="#2d7dbb"/><rect x="629" y="284" width="11" height="10" fill="#4090c5"/>
<rect x="405" y="294" width="11" height="11" fill="#f4f9fe"/><rect x="469" y="294" width="11" height="11" fill="#f4f9fe"/><rect x="565" y="294" width="11" height="11" fill="#f2f7fd"/><rect x="587" y="294" width="10" height="11" fill="#f0f6fd"/><rect x="608" y="294" width="32" height="11" fill="#ecf4fb"/>
<rect x="416" y="305" width="21" height="11" fill="#e8f1fa"/><rect x="448" y="305" width="11" height="11" fill="#ecf4fb"/><rect x="469" y="305" width="11" height="11" fill="#e3eef8"/><rect x="555" y="305" width="32" height="11" fill="#eaf2fb"/><rect x="587" y="305" width="10" height="11" fill="#e6f0f9"/><rect x="597" y="305" width="11" height="11" fill="#f5fafe"/><rect x="608" y="305" width="21" height="11" fill="#e0ecf8"/><rect x="629" y="305" width="11" height="11" fill="#e3eef8"/>
<rect x="437" y="316" width="11" height="10" fill="#f0f6fd"/><rect x="459" y="316" width="10" height="10" fill="#f4f9fe"/><rect x="469" y="316" width="11" height="10" fill="#f2f7fd"/><rect x="480" y="316" width="21" height="10" fill="#f0f6fd"/><rect x="501" y="316" width="11" height="10" fill="#ecf4fb"/><rect x="512" y="316" width="11" height="10" fill="#e8f1fa"/><rect x="523" y="316" width="10" height="10" fill="#ecf4fb"/><rect x="533" y="316" width="11" height="10" fill="#f4f9fe"/><rect x="587" y="316" width="10" height="10" fill="#eef5fc"/><rect x="597" y="316" width="11" height="10" fill="#f2f7fd"/><rect x="608" y="316" width="11" height="10" fill="#e3eef8"/><rect x="619" y="316" width="10" height="10" fill="#e8f1fa"/><rect x="629" y="316" width="11" height="10" fill="#eaf2fb"/>
<rect x="437" y="326" width="11" height="11" fill="#ecf4fb"/><rect x="459" y="326" width="10" height="11" fill="#eaf2fb"/><rect x="469" y="326" width="11" height="11" fill="#f5fafe"/><rect x="480" y="326" width="43" height="11" fill="#e8f1fa"/><rect x="523" y="326" width="10" height="11" fill="#eaf2fb"/><rect x="533" y="326" width="11" height="11" fill="#e8f1fa"/><rect x="544" y="326" width="11" height="11" fill="#eef5fc"/><rect x="587" y="326" width="21" height="11" fill="#ecf4fb"/><rect x="608" y="326" width="11" height="11" fill="#e6f0f9"/><rect x="619" y="326" width="10" height="11" fill="#ecf4fb"/><rect x="629" y="326" width="11" height="11" fill="#eef5fc"/>
<rect x="448" y="337" width="11" height="11" fill="#f0f6fd"/><rect x="469" y="337" width="11" height="11" fill="#e8f1fa"/><rect x="555" y="337" width="32" height="11" fill="#eef5fc"/><rect x="587" y="337" width="10" height="11" fill="#eaf2fb"/><rect x="608" y="337" width="32" height="11" fill="#e4eff9"/>
<rect x="459" y="348" width="10" height="10" fill="#f0f6fd"/><rect x="480" y="348" width="32" height="10" fill="#ecf4fb"/><rect x="512" y="348" width="11" height="10" fill="#e8f1fa"/><rect x="523" y="348" width="10" height="10" fill="#eaf2fb"/><rect x="533" y="348" width="11" height="10" fill="#ecf4fb"/><rect x="544" y="348" width="11" height="10" fill="#f2f7fd"/><rect x="555" y="348" width="10" height="10" fill="#eef5fc"/><rect x="608" y="348" width="32" height="10" fill="#ecf4fb"/>
<rect x="469" y="358" width="11" height="11" fill="#eaf2fb"/><rect x="555" y="358" width="10" height="11" fill="#eef5fc"/><rect x="565" y="358" width="11" height="11" fill="#f0f6fd"/><rect x="576" y="358" width="11" height="11" fill="#eef5fc"/><rect x="587" y="358" width="10" height="11" fill="#e4eff9"/><rect x="608" y="358" width="11" height="11" fill="#e3eef8"/><rect x="619" y="358" width="21" height="11" fill="#dfebf7"/>
<rect x="480" y="369" width="11" height="11" fill="#eaf2fb"/><rect x="491" y="369" width="10" height="11" fill="#e8f1fa"/><rect x="501" y="369" width="11" height="11" fill="#e3eef8"/><rect x="512" y="369" width="11" height="11" fill="#dfebf7"/><rect x="523" y="369" width="10" height="11" fill="#e3eef8"/><rect x="533" y="369" width="11" height="11" fill="#ecf4fb"/><rect x="544" y="369" width="21" height="11" fill="#f0f6fd"/><rect x="565" y="369" width="11" height="11" fill="#f4f9fe"/><rect x="587" y="369" width="10" height="11" fill="#f4f9fe"/><rect x="597" y="369" width="11" height="11" fill="#eaf2fb"/><rect x="608" y="369" width="32" height="11" fill="#eef5fc"/>
<rect x="555" y="380" width="10" height="10" fill="#ecf4fb"/><rect x="565" y="380" width="22" height="10" fill="#f0f6fd"/><rect x="587" y="380" width="10" height="10" fill="#e6f0f9"/><rect x="608" y="380" width="11" height="10" fill="#e4eff9"/><rect x="619" y="380" width="21" height="10" fill="#dfebf7"/>
<rect x="555" y="390" width="10" height="11" fill="#e8f1fa"/><rect x="565" y="390" width="11" height="11" fill="#ecf4fb"/><rect x="576" y="390" width="11" height="11" fill="#eef5fc"/><rect x="587" y="390" width="10" height="11" fill="#e4eff9"/><rect x="608" y="390" width="11" height="11" fill="#e4eff9"/><rect x="619" y="390" width="21" height="11" fill="#dceaf6"/>
<rect x="555" y="401" width="21" height="11" fill="#eaf2fb"/><rect x="576" y="401" width="11" height="11" fill="#ecf4fb"/><rect x="587" y="401" width="10" height="11" fill="#e6f0f9"/><rect x="608" y="401" width="11" height="11" fill="#e3eef8"/><rect x="619" y="401" width="21" height="11" fill="#dfebf7"/>
<rect x="544" y="412" width="11" height="10" fill="#f5fafe"/><rect x="555" y="412" width="21" height="10" fill="#e6f0f9"/><rect x="576" y="412" width="11" height="10" fill="#e8f1fa"/><rect x="587" y="412" width="10" height="10" fill="#e6f0f9"/><rect x="608" y="412" width="11" height="10" fill="#e0ecf8"/><rect x="619" y="412" width="21" height="10" fill="#dfebf7"/>
<rect x="555" y="422" width="10" height="11" fill="#e8f1fa"/><rect x="565" y="422" width="22" height="11" fill="#eaf2fb"/><rect x="587" y="422" width="10" height="11" fill="#e6f0f9"/><rect x="608" y="422" width="11" height="11" fill="#e3eef8"/><rect x="619" y="422" width="10" height="11" fill="#dfebf7"/><rect x="629" y="422" width="11" height="11" fill="#e0ecf8"/>
<rect x="555" y="433" width="10" height="11" fill="#eaf2fb"/><rect x="565" y="433" width="11" height="11" fill="#ecf4fb"/><rect x="576" y="433" width="11" height="11" fill="#f2f7fd"/><rect x="587" y="433" width="10" height="11" fill="#e4eff9"/><rect x="597" y="433" width="11" height="11" fill="#f5fafe"/><rect x="608" y="433" width="11" height="11" fill="#e4eff9"/><rect x="619" y="433" width="10" height="11" fill="#dbe9f6"/><rect x="629" y="433" width="11" height="11" fill="#dfebf7"/>
<rect x="555" y="444" width="10" height="10" fill="#f0f6fd"/><rect x="565" y="444" width="11" height="10" fill="#f2f7fd"/><rect x="576" y="444" width="11" height="10" fill="#f5fafe"/><rect x="587" y="444" width="10" height="10" fill="#eaf2fb"/><rect x="597" y="444" width="11" height="10" fill="#f5fafe"/><rect x="608" y="444" width="11" height="10" fill="#e8f1fa"/><rect x="619" y="444" width="10" height="10" fill="#e4eff9"/><rect x="629" y="444" width="11" height="10" fill="#e6f0f9"/>
<rect x="565" y="454" width="11" height="11" fill="#f4f9fe"/><rect x="576" y="454" width="11" height="11" fill="#eef5fc"/><rect x="587" y="454" width="10" height="11" fill="#ecf4fb"/><rect x="597" y="454" width="11" height="11" fill="#eef5fc"/><rect x="608" y="454" width="21" height="11" fill="#e6f0f9"/><rect x="629" y="454" width="11" height="11" fill="#eaf2fb"/>
<rect x="576" y="465" width="11" height="11" fill="#eef5fc"/><rect x="587" y="465" width="10" height="11" fill="#ecf4fb"/><rect x="597" y="465" width="11" height="11" fill="#eaf2fb"/><rect x="608" y="465" width="11" height="11" fill="#e8f1fa"/><rect x="619" y="465" width="10" height="11" fill="#eaf2fb"/><rect x="629" y="465" width="11" height="11" fill="#ecf4fb"/>
<rect x="587" y="476" width="10" height="10" fill="#f0f6fd"/><rect x="597" y="476" width="11" height="10" fill="#f4f9fe"/><rect x="608" y="476" width="11" height="10" fill="#eef5fc"/><rect x="619" y="476" width="21" height="10" fill="#f0f6fd"/>
<rect x="597" y="486" width="11" height="11" fill="#e3eef8"/>
<rect x="608" y="497" width="11" height="11" fill="#e3eef8"/><rect x="619" y="497" width="10" height="11" fill="#dceaf6"/><rect x="629" y="497" width="11" height="11" fill="#e0ecf8"/>



</g>
<path d="M165.5 60v6.0M165.5 540v-6.0M160 65.5h6.0M640 65.5h-6.0M176.5 60v6.0M176.5 540v-6.0M160 76.5h6.0M640 76.5h-6.0M187.5 60v6.0M187.5 540v-6.0M160 87.5h6.0M640 87.5h-6.0M197.5 60v6.0M197.5 540v-6.0M160 97.5h6.0M640 97.5h-6.0M208.5 60v6.0M208.5 540v-6.0M160 108.5h6.0M640 108.5h-6.0M219.5 60v6.0M219.5 540v-6.0M160 119.5h6.0M640 119.5h-6.0M229.5 60v6.0M229.5 540v-6.0M160 129.5h6.0M640 129.5h-6.0M240.5 60v6.0M240.5 540v-6.0M160 140.5h6.0M640 140.5h-6.0M251.5 60v6.0M251.5 540v-6.0M160 151.5h6.0M640 151.5h-6.0M261.5 60v6.0M261.5 540v-6.0M160 161.5h6.0M640 161.5h-6.0M272.5 60v6.0M272.5 540v-6.0M160 172.5h6.0M640 172.5h-6.0M283.5 60v6.0M283.5 540v-6.0M160 183.5h6.0M640 183.5h-6.0M293.5 60v6.0M293.5 540v-6.0M160 193.5h6.0M640 193.5h-6.0M304.5 60v6.0M304.5 540v-6.0M160 204.5h6.0M640 204.5h-6.0M315.5 60v6.0M315.5 540v-6.0M160 215.5h6.0M640 215.5h-6.0M325.5 60v6.0M325.5 540v-6.0M160 225.5h6.0M640 225.5h-6.0M336.5 60v6.0M336.5 540v-6.0M160 236.5h6.0M640 236.5h-6.0M347.5 60v6.0M347.5 540v-6.0M160 247.5h6.0M640 247.5h-6.0M357.5 60v6.0M357.5 540v-6.0M160 257.5h6.0M640 257.5h-6.0M368.5 60v6.0M368.5 540v-6.0M160 268.5h6.0M640 268.5h-6.0M379.5 60v6.0M379.5 540v-6.0M160 279.5h6.0M640 279.5h-6.0M389.5 60v6.0M389.5 540v-6.0M160 289.5h6.0M640 289.5h-6.0M400.5 60v6.0M400.5 540v-6.0M160 300.5h6.0M640 300.5h-6.0M411.5 60v6.0M411.5 540v-6.0M160 311.5h6.0M640 311.5h-6.0M421.5 60v6.0M421.5 540v-6.0M160 321.5h6.0M640 321.5h-6.0M432.5 60v6.0M432.5 540v-6.0M160 332.5h6.0M640 332.5h-6.0M443.5 60v6.0M443.5 540v-6.0M160 343.5h6.0M640 343.5h-6.0M453.5 60v6.0M453.5 540v-6.0M160 353.5h6.0M640 353.5h-6.0M464.5 60v6.0M464.5 540v-6.0M160 364.5h6.0M640 364.5h-6.0M475.5 60v6.0M475.5 540v-6.0M160 375.5h6.0M640 375.5h-6.0M485.5 60v6.0M485.5 540v-6.0M160 385.5h6.0M640 385.5h-6.0M496.5 60v6.0M496.5 540v-6.0M160 396.5h6.0M640 396.5h-6.0M507.5 60v6.0M507.5 540v-6.0M160 407.5h6.0M640 407.5h-6.0M517.5 60v6.0M517.5 540v-6.0M160 417.5h6.0M640 417.5h-6.0M528.5 60v6.0M528.5 540v-6.0M160 428.5h6.0M640 428.5h-6.0M539.5 60v6.0M539.5 540v-6.0M160 439.5h6.0M640 439.5h-6.0M549.5 60v6.0M549.5 540v-6.0M160 449.5h6.0M640 449.5h-6.0M560.5 60v6.0M560.5 540v-6.0M160 460.5h6.0M640 460.5h-6.0M571.5 60v6.0M571.5 540v-6.0M160 471.5h6.0M640 471.5h-6.0M581.5 60v6.0M581.5 540v-6.0M160 481.5h6.0M640 481.5h-6.0M592.5 60v6.0M592.5 540v-6.0M160 492.5h6.0M640 492.5h-6.0M603.5 60v6.0M603.5 540v-6.0M160 503.5h6.0M640 503.5h-6.0M613.5 60v6.0M613.5 540v-6.0M160 513.5h6.0M640 513.5h-6.0M624.5 60v6.0M624.5 540v-6.0M160 524.5h6.0M640 524.5h-6.0M635.5 60v6.0M635.5 540v-6.0M160 535.5h6.0M640 535.5h-6.0" stroke="#1a1a1a" stroke-width="1" fill="none"/>
<rect x="160.5" y="60.5" width="480" height="480" fill="none" stroke="#000" stroke-width="1.4"/>
<text x="165.8" y="54" text-anchor="middle" letter-spacing="-0.45">C1&#39;</text><text x="155.4" y="71.4" text-anchor="end" letter-spacing="-0.45">C1&#39;</text>
<text x="219.2" y="54" text-anchor="middle" letter-spacing="-0.45">C4&#39;</text><text x="155.4" y="124.8" text-anchor="end" letter-spacing="-0.45">C4&#39;</text>
<text x="272.5" y="54" text-anchor="middle" letter-spacing="-0.45">N1</text><text x="155.4" y="178.1" text-anchor="end" letter-spacing="-0.45">N1</text>
<text x="325.8" y="54" text-anchor="middle" letter-spacing="-0.45">O2&#39;</text><text x="155.4" y="231.4" text-anchor="end" letter-spacing="-0.45">O2&#39;</text>
<text x="379.2" y="54" text-anchor="middle" letter-spacing="-0.45">OP2</text><text x="155.4" y="284.8" text-anchor="end" letter-spacing="-0.45">OP2</text>
<text x="432.5" y="54" text-anchor="middle" letter-spacing="-0.45">C3&#39;</text><text x="155.4" y="338.1" text-anchor="end" letter-spacing="-0.45">C3&#39;</text>
<text x="485.8" y="54" text-anchor="middle" letter-spacing="-0.45">C6</text><text x="155.4" y="391.4" text-anchor="end" letter-spacing="-0.45">C6</text>
<text x="539.2" y="54" text-anchor="middle" letter-spacing="-0.45">N7</text><text x="155.4" y="444.8" text-anchor="end" letter-spacing="-0.45">N7</text>
<text x="592.5" y="54" text-anchor="middle" letter-spacing="-0.45">O5&#39;</text><text x="155.4" y="498.1" text-anchor="end" letter-spacing="-0.45">O5&#39;</text>
<rect x="680.5" y="60.5" width="16" height="480" fill="url(#cb)" stroke="#000" stroke-width="1.4"/>
<text x="701.3" y="546.1" letter-spacing="-0.6">0.0</text><text x="701.3" y="491.1" letter-spacing="-0.6">0.6</text><text x="701.3" y="436.1" letter-spacing="-0.6">1.2</text><text x="701.3" y="381.1" letter-spacing="-0.6">1.8</text><text x="701.3" y="326.1" letter-spacing="-0.6">2.4</text><text x="701.3" y="271.1" letter-spacing="-0.6">3.0</text><text x="701.3" y="216.1" letter-spacing="-0.6">3.6</text><text x="701.3" y="161.1" letter-spacing="-0.6">4.2</text><text x="701.3" y="106.1" letter-spacing="-0.6">4.8</text>
<path d="M696.5 485.5h-6.0M696.5 430.5h-6.0M696.5 375.5h-6.0M696.5 320.5h-6.0M696.5 265.5h-6.0M696.5 210.5h-6.0M696.5 155.5h-6.0M696.5 100.5h-6.0" stroke="#1a1a1a" stroke-width="1" fill="none"/>
</svg>
</body></html>
